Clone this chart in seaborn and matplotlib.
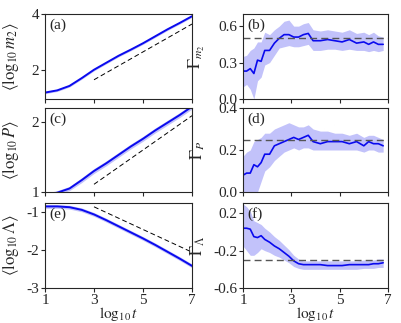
import numpy as np
import pandas as pd
import matplotlib
matplotlib.use("Agg")
import matplotlib.pyplot as plt
import seaborn as sns

sns.set_style("ticks")
plt.rcParams['font.family'] = ['Liberation Serif', 'DejaVu Serif']
plt.rcParams['mathtext.fontset'] = 'stix'
plt.rcParams['font.size'] = 11

# ---------------- data ----------------
t_left = [1.0, 1.5, 2.0, 2.5, 3.0, 3.5, 4.0, 4.5, 5.0, 5.5, 6.0, 6.5, 7.0]
m2_mean = [1.18, 1.26, 1.42, 1.70, 2.00, 2.25, 2.50, 2.72, 2.95, 3.20, 3.45, 3.68, 3.92]
m2_err = [0.04, 0.04, 0.04, 0.04, 0.04, 0.04, 0.04, 0.04, 0.04, 0.04, 0.04, 0.04, 0.04]
P_mean = [0.95, 0.99, 1.05, 1.17, 1.30, 1.41, 1.53, 1.65, 1.76, 1.88, 1.99, 2.10, 2.22]
P_err = [0.03, 0.03, 0.03, 0.035, 0.035, 0.035, 0.035, 0.035, 0.035, 0.035, 0.035, 0.035, 0.035]
L_mean = [-0.86, -0.86, -0.88, -0.95, -1.07, -1.22, -1.38, -1.54, -1.70, -1.87, -2.05, -2.23, -2.42]
L_err = [0.05, 0.05, 0.05, 0.05, 0.05, 0.05, 0.05, 0.05, 0.05, 0.05, 0.05, 0.05, 0.05]

guide_t = [3.0, 7.0]
m2_guide = [1.64, 3.64]
P_guide = [1.11, 2.09]
L_guide = [-0.87, -2.06]

t_right = [1.0, 1.15, 1.3, 1.45, 1.6, 1.75, 1.9, 2.1, 2.3, 2.5, 2.7, 2.9, 3.1, 3.3,
           3.5, 3.7, 3.9, 4.2, 4.5, 4.8, 5.1, 5.4, 5.7, 6.0, 6.2, 6.4, 6.6, 6.8]
Gm_mean = [0.23, 0.23, 0.25, 0.21, 0.32, 0.31, 0.40, 0.40, 0.46, 0.50, 0.53, 0.53, 0.51, 0.51,
           0.53, 0.54, 0.48, 0.48, 0.49, 0.48, 0.47, 0.49, 0.46, 0.47, 0.45, 0.47, 0.45, 0.45]
Gm_low = [0.10, 0.12, 0.08, 0.00, 0.15, 0.18, 0.28, 0.30, 0.36, 0.42, 0.43, 0.44, 0.43, 0.43,
          0.44, 0.45, 0.40, 0.40, 0.41, 0.41, 0.40, 0.41, 0.40, 0.40, 0.39, 0.40, 0.39, 0.40]
Gm_high = [0.35, 0.36, 0.40, 0.42, 0.47, 0.47, 0.55, 0.53, 0.57, 0.60, 0.64, 0.65, 0.60, 0.60,
           0.62, 0.63, 0.57, 0.56, 0.57, 0.56, 0.55, 0.57, 0.54, 0.55, 0.53, 0.55, 0.52, 0.51]
Gp_mean = [0.08, 0.09, 0.09, 0.13, 0.12, 0.14, 0.18, 0.18, 0.22, 0.23, 0.24, 0.25, 0.26, 0.25,
           0.26, 0.27, 0.24, 0.23, 0.24, 0.24, 0.24, 0.23, 0.24, 0.22, 0.24, 0.23, 0.23, 0.22]
Gp_low = [0.00, 0.00, 0.00, 0.00, 0.00, 0.05, 0.10, 0.12, 0.15, 0.17, 0.19, 0.20, 0.21, 0.20,
          0.21, 0.21, 0.20, 0.20, 0.20, 0.20, 0.20, 0.20, 0.20, 0.19, 0.20, 0.20, 0.19, 0.19]
Gp_high = [0.17, 0.19, 0.20, 0.24, 0.25, 0.26, 0.28, 0.28, 0.30, 0.31, 0.32, 0.33, 0.32, 0.31,
           0.31, 0.32, 0.30, 0.29, 0.29, 0.28, 0.28, 0.27, 0.28, 0.26, 0.27, 0.27, 0.26, 0.25]
GL_mean = [0.04, 0.04, 0.03, -0.05, -0.06, -0.04, -0.08, -0.11, -0.15, -0.18, -0.22, -0.26, -0.31, -0.34,
           -0.35, -0.35, -0.35, -0.35, -0.36, -0.36, -0.36, -0.35, -0.35, -0.35, -0.35, -0.34, -0.34, -0.33]
GL_low = [-0.15, -0.20, -0.25, -0.25, -0.22, -0.18, -0.20, -0.22, -0.25, -0.27, -0.30, -0.33, -0.37, -0.39,
          -0.40, -0.40, -0.40, -0.40, -0.40, -0.40, -0.40, -0.40, -0.40, -0.39, -0.39, -0.39, -0.38, -0.38]
GL_high = [0.30, 0.27, 0.22, 0.12, 0.10, 0.08, 0.04, 0.00, -0.05, -0.09, -0.14, -0.19, -0.25, -0.29,
           -0.31, -0.31, -0.31, -0.31, -0.31, -0.31, -0.31, -0.31, -0.31, -0.30, -0.30, -0.30, -0.29, -0.29]

Gm_ref, Gp_ref, GL_ref = 0.5, 0.25, -0.30

panel_labels = ['(a)', '(b)', '(c)', '(d)', '(e)', '(f)']
left_ylabels = [r'$\langle\log_{10} m_2\rangle$', r'$\langle\log_{10} P\rangle$', r'$\langle\log_{10} \Lambda\rangle$']
right_ylabels = [r'$\Gamma_{m_2}$', r'$\Gamma_{P}$', r'$\Gamma_{\Lambda}$']
x_ticks = [1, 3, 5, 7]

# ---------------- figure ----------------
W, H = 401, 323
fig = plt.figure(figsize=(W / 100, H / 100), dpi=100)

rows = [(14, 99), (108, 192), (203, 288)]
lcol = (45, 192)
rcol = (243, 388)

def mkax(col, row):
    x0, x1 = col
    y0, y1 = row
    return fig.add_axes([x0 / W, 1 - y1 / H, (x1 - x0) / W, (y1 - y0) / H])

blue = '#0a0aee'
band = '#c2c2fa'

left_data = [(m2_mean, m2_err, m2_guide, (0.95, 4.0), [2, 4]),
             (P_mean, P_err, P_guide, (1.0, 2.2), [1, 2]),
             (L_mean, L_err, L_guide, (-3.0, -0.77), [-3, -2, -1])]
right_data = [(Gm_mean, Gm_low, Gm_high, Gm_ref, (0.0, 0.7), [0.0, 0.3, 0.6], '{:.1f}'),
              (Gp_mean, Gp_low, Gp_high, Gp_ref, (0.0, 0.4), [0.0, 0.2, 0.4], '{:.1f}'),
              (GL_mean, GL_low, GL_high, GL_ref, (-0.6, 0.31), [-0.6, -0.2, 0.2], '{:.1f}')]

for i in range(3):
    # left panel
    ax = mkax(lcol, rows[i])
    mean, err, guide, ylim, yt = left_data[i]
    df = pd.DataFrame({'t': t_left, 'v': mean})
    lo = np.array(mean) - np.array(err)
    hi = np.array(mean) + np.array(err)
    ax.fill_between(t_left, lo, hi, color=band, alpha=1.0, lw=0)
    sns.lineplot(data=df, x='t', y='v', ax=ax, color=blue, lw=1.4)
    sns.lineplot(x=guide_t, y=guide, ax=ax, color='black', lw=0.7, linestyle=(0, (5, 3)))
    ax.set_xlim(1, 7)
    ax.set_ylim(*ylim)
    ax.set_xticks(x_ticks)
    ax.set_yticks(yt)
    ax.set_yticklabels([str(v) for v in yt])
    ax.set_ylabel(left_ylabels[i], fontsize=12)
    ax.yaxis.set_label_coords(-0.16, 0.5)
    if i < 2:
        ax.set_xticklabels([])
        ax.set_xlabel('')
    else:
        ax.set_xticklabels([str(v) for v in x_ticks])
        ax.set_xlabel(r'$\log_{10} t$', labelpad=-1)
    ax.text(0.03, 0.95, panel_labels[2 * i], transform=ax.transAxes, va='top', ha='left', fontsize=11)

    # right panel
    ax = mkax(rcol, rows[i])
    mean, low, high, ref, ylim, yt, fmt = right_data[i]
    df = pd.DataFrame({'t': t_right, 'v': mean})
    ax.fill_between(t_right, low, high, color=band, alpha=1.0, lw=0)
    sns.lineplot(data=df, x='t', y='v', ax=ax, color=blue, lw=1.2)
    ax.axhline(ref, color='#555555', lw=1.0, linestyle=(0, (5, 3)))
    ax.set_xlim(1, 7)
    ax.set_ylim(*ylim)
    ax.set_xticks(x_ticks)
    ax.set_yticks(yt)
    ax.set_yticklabels([fmt.format(v) for v in yt])
    ax.set_ylabel(right_ylabels[i], fontsize=12)
    ax.yaxis.set_label_coords(-0.25, 0.5)
    if i < 2:
        ax.set_xticklabels([])
        ax.set_xlabel('')
    else:
        ax.set_xticklabels([str(v) for v in x_ticks])
        ax.set_xlabel(r'$\log_{10} t$', labelpad=-1)
    ax.text(0.03, 0.95, panel_labels[2 * i + 1], transform=ax.transAxes, va='top', ha='left', fontsize=11)

for ax in fig.axes:
    ax.tick_params(direction='out', length=3, width=0.8, labelsize=11, pad=1)
    for s in ax.spines.values():
        s.set_linewidth(0.8)
        s.set_visible(True)

fig.savefig('out.png', dpi=100)
